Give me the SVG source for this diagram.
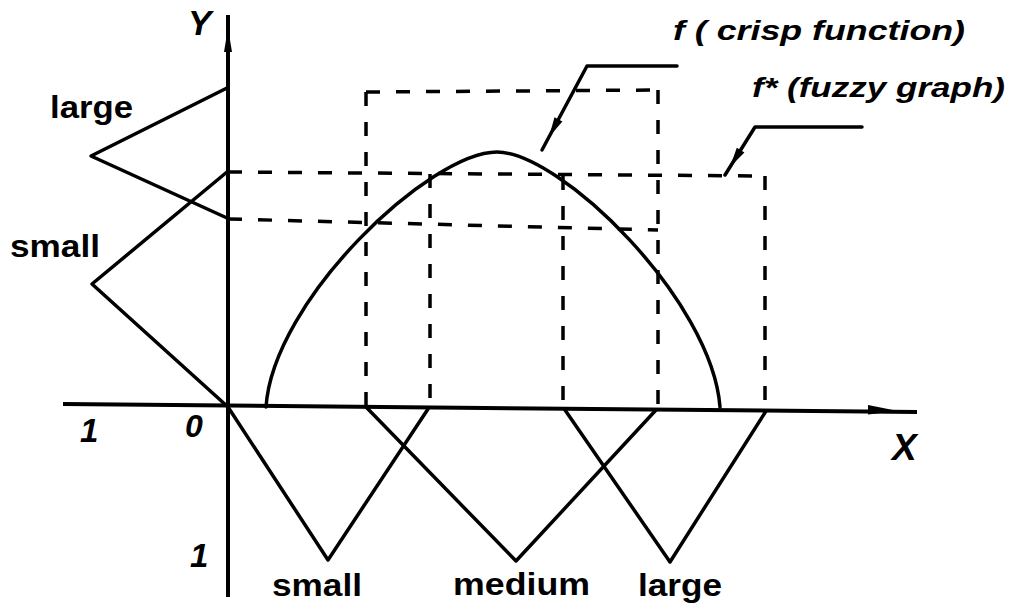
<svg xmlns="http://www.w3.org/2000/svg" width="1011" height="607" viewBox="0 0 1011 607">
<style>
.ln{fill:none;stroke:#000;stroke-width:3.5;stroke-linejoin:round;stroke-linecap:round}
.ax{fill:none;stroke:#000;stroke-width:4}
.ds{fill:none;stroke:#000;stroke-width:3.5;stroke-dasharray:14 16}
.t{font-family:"Liberation Sans",Arial,sans-serif;font-weight:bold;fill:#000}
.i{font-style:italic}
</style>
<defs>
<path id="ah" d="M0,0 L-20,-4.5 L-20,4.5 Z" fill="#000"/>
</defs>
<rect x="0" y="0" width="1011" height="607" fill="#fff"/>
<g id="axes">
<line class="ax" x1="228" y1="15" x2="228" y2="597"/>
<path d="M228,28 L224,52 L232,52 Z" fill="#000"/>
<line class="ax" x1="63" y1="404" x2="917" y2="412"/>
<path d="M898,411 L868,405 L868,414.5 Z" fill="#000"/>
</g>
<g id="left-sets">
<polyline class="ln" points="227,88 91,156 227,218"/>
<polyline class="ln" points="227,172 92,284 228,407"/>
</g>
<g id="bottom-sets">
<polyline class="ln" points="228,407 328,560 428,409"/>
<polyline class="ln" points="367,408 516,561 656,410"/>
<polyline class="ln" points="565,410 670,562 766,411"/>
</g>
<g id="fuzzy-graph">
<line class="ds" x1="228" y1="172" x2="765" y2="176"/>
<line class="ds" x1="228" y1="219" x2="658" y2="230"/>
<line class="ds" x1="366" y1="92" x2="658" y2="90"/>
<line class="ds" x1="366" y1="92" x2="366" y2="408"/>
<line class="ds" x1="658" y1="90" x2="658" y2="410"/>
<line class="ds" x1="430" y1="174" x2="430" y2="409"/>
<line class="ds" x1="563" y1="176" x2="563" y2="410"/>
<line class="ds" x1="765" y1="176" x2="765" y2="411"/>
</g>
<g id="crisp-function">
<path class="ln" d="M266,407 C273,300 430,152 497,152 C560,152 712,300 720,407"/>
</g>
<g id="connectors">
<polyline class="ln" points="677,66 587,66 542,150"/>
<use href="#ah" transform="translate(549,137) rotate(118.2)"/>
<polyline class="ln" points="862,127 755,127 725,175"/>
<use href="#ah" transform="translate(730,167) rotate(122)"/>
</g>
<g id="labels">
<text class="t i" x="188" y="35" font-size="35">Y</text>
<text class="t i" x="892" y="460" font-size="37">X</text>
<text class="t i" x="80" y="442" font-size="33">1</text>
<text class="t i" x="185" y="437" font-size="32">0</text>
<text class="t i" x="190" y="567" font-size="33">1</text>
<text class="t" x="50" y="118" font-size="32" textLength="83" lengthAdjust="spacingAndGlyphs">large</text>
<text class="t" x="10" y="257" font-size="32" textLength="90" lengthAdjust="spacingAndGlyphs">small</text>
<text class="t" x="272" y="596" font-size="32" textLength="90" lengthAdjust="spacingAndGlyphs">small</text>
<text class="t" x="453" y="595" font-size="32" textLength="137" lengthAdjust="spacingAndGlyphs">medium</text>
<text class="t" x="638" y="596" font-size="32" textLength="84" lengthAdjust="spacingAndGlyphs">large</text>
<text class="t i" x="673" y="40" font-size="28" textLength="292" lengthAdjust="spacingAndGlyphs">f ( crisp function)</text>
<text class="t i" x="752" y="97" font-size="28" textLength="253" lengthAdjust="spacingAndGlyphs">f* (fuzzy graph)</text>
</g>
</svg>
